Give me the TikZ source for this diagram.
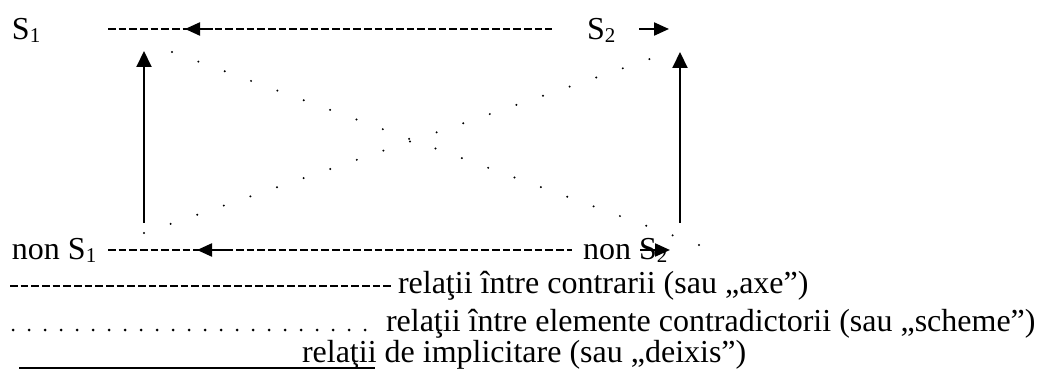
\documentclass[tikz,border=0pt]{standalone}
\usepackage{fontspec}
\setmainfont{Liberation Serif}
\usetikzlibrary{arrows.meta}
\newcommand\mysub[1]{\raisebox{-3pt}{\fontsize{21}{21}\selectfont #1}}
\begin{document}
\begin{tikzpicture}[x=1pt,y=-1pt,
  lbl/.style={anchor=base west,inner sep=0pt,outer sep=0pt,font=\fontsize{32}{36.8}\selectfont},
  dashln/.style={line width=2pt,dash pattern=on 7.5pt off 3.17pt},
  dotln/.style={line width=#1,line cap=round},
  arr/.style={line width=2.2pt,-{Triangle[length=15pt,width=13pt]}},
  varr/.style={line width=2pt,-{Triangle[length=16pt,width=15pt]}},
  uline/.style={line width=1.5pt}
]
\useasboundingbox (0,0) rectangle (1044,371);
% labels
\node[lbl] (s1) at (12,40) {S\mysub{1}};
\node[lbl] (s2) at (587,40) {S\mysub{2}};
\node[lbl] (ns1) at (12,260) {non S\mysub{1}};
\node[lbl] (ns2) at (583,260) {non S\mysub{2}};
% top dashed line with arrows
\coordinate (t1) at (108,29); \coordinate (t2) at (552,29);
\draw[dashln] (t1) -- (t2);
\coordinate (ta1) at (213,29); \coordinate (ta2) at (185,29);
\draw[arr] (ta1) -- (ta2);
\coordinate (tr1) at (639,29); \coordinate (tr2) at (669,29);
\draw[arr] (tr1) -- (tr2);
% bottom dashed line with arrows
\coordinate (b1) at (108,250); \coordinate (b2) at (572,250);
\draw[dashln] (b1) -- (b2);
\coordinate (ba1) at (225,250); \coordinate (ba2) at (197,250);
\draw[arr] (ba1) -- (ba2);
\coordinate (br1) at (640,250); \coordinate (br2) at (670,250);
\draw[arr] (br1) -- (br2);
% vertical implication arrows
\coordinate (vl1) at (144,223); \coordinate (vl2) at (144,51);
\draw[varr] (vl1) -- (vl2);
\coordinate (vr1) at (680,223); \coordinate (vr2) at (680,52);
\draw[varr] (vr1) -- (vr2);
% dotted diagonals
\coordinate (da1) at (172,52); \coordinate (da2) at (699,245);
\draw[dotln=2.2pt,dash pattern=on 0pt off 28.06pt] (da1) -- (da2);
\coordinate (db1) at (144,233); \coordinate (db2) at (676,50);
\draw[dotln=2.2pt,dash pattern=on 0pt off 28.13pt] (db1) -- (db2);
% legend
\coordinate (l1a) at (10,286); \coordinate (l1b) at (391,286);
\draw[dashln] (l1a) -- (l1b);
\node[lbl] (l1) at (398,294) {relaţii între contrarii (sau „axe”)};
\coordinate (l2a) at (13,330); \coordinate (l2b) at (381,330);
\draw[dotln=3pt,dash pattern=on 0pt off 16pt] (l2a) -- (l2b);
\node[lbl] (l2) at (386,331) {relaţii între elemente contradictorii (sau „scheme”)};
\coordinate (l3a) at (19,368); \coordinate (l3b) at (375,368);
\draw[uline] (l3a) -- (l3b);
\node[lbl] (l3) at (302,362) {relaţii de implicitare (sau „deixis”)};
\end{tikzpicture}
\end{document}
